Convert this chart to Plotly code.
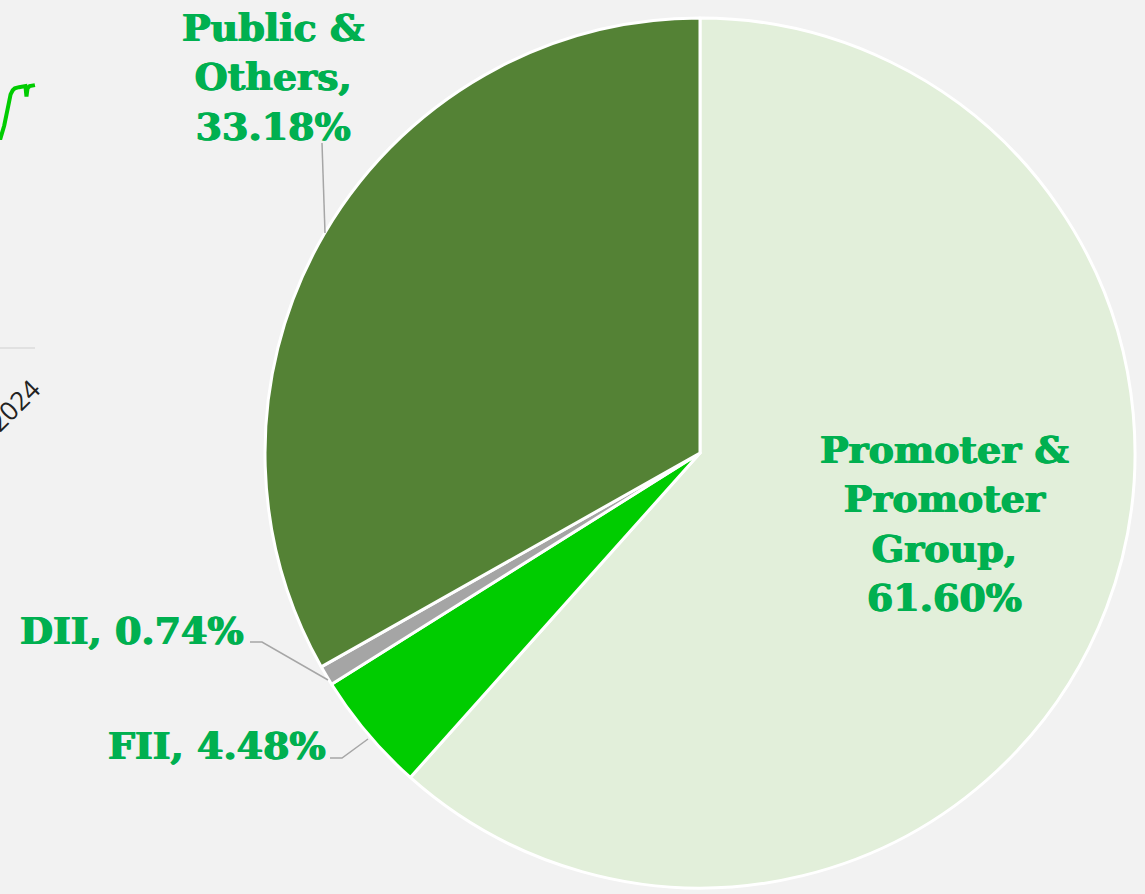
import plotly.graph_objects as go

W, H = 1145, 894

# shareholding pattern
labels = ["Promoter & Promoter Group", "FII", "DII", "Public & Others"]
values = [61.60, 4.48, 0.74, 33.18]
colors = ["#e2efda", "#00cc00", "#a5a5a5", "#548235"]

# label text as shown on the chart
label_text = [
    "Promoter &<br>Promoter<br>Group,<br>61.60%",
    "FII, 4.48%",
    "DII, 0.74%",
    "Public &<br>Others,<br>33.18%",
]

# scrap of a neighbouring chart visible at the left edge
side_x = [0, 4, 8, 10, 12, 14, 18, 22, 24, 25, 26, 28, 31, 33]
side_y = [0, 14, 34, 44, 48, 50, 51, 52, 52, 42, 50, 52, 53, 53]


def px(x):
    return x / W


def py(y):
    return 1 - y / H


fig = go.Figure()

fig.add_trace(go.Pie(
    labels=labels,
    values=values,
    sort=False,
    direction="clockwise",
    rotation=0,
    marker=dict(colors=colors, line=dict(color="white", width=3)),
    textinfo="none",
    hoverinfo="label+percent",
    domain=dict(x=[265 / W, 1135 / W], y=[6 / H, 876 / H]),
    showlegend=False,
))

fig.add_trace(go.Scatter(
    x=side_x, y=side_y, mode="lines",
    line=dict(color="#00cc00", width=4),
    xaxis="x", yaxis="y", showlegend=False, hoverinfo="skip",
))

green = "#00b050"
lbl_font = dict(family="DejaVu Serif", size=38, color=green,
                shadow=f"0.7px 0 0 {green}, -0.7px 0 0 {green}")

annotations = [
    dict(x=px(944), y=py(523), text="<b>" + label_text[0] + "</b>",
         xanchor="center", yanchor="middle", align="center"),
    dict(x=px(328), y=py(745), text="<b>" + label_text[1] + "</b>",
         xanchor="right", yanchor="middle", align="right"),
    dict(x=px(246), y=py(630), text="<b>" + label_text[2] + "</b>",
         xanchor="right", yanchor="middle", align="right"),
    dict(x=px(273), y=py(77), text="<b>" + label_text[3] + "</b>",
         xanchor="center", yanchor="middle", align="center"),
]
for a in annotations:
    a.update(xref="paper", yref="paper", showarrow=False, font=lbl_font)

annotations.append(dict(
    x=px(14), y=py(405), xref="paper", yref="paper", text="2024",
    xanchor="center", yanchor="middle",
    showarrow=False, textangle=-45, font=dict(family="Open Sans", size=26, color="#222222"),
))

leader = "#a6a6a6"
shapes = [
    dict(type="path", path=f"M {px(322)},{py(143)} L {px(325)},{py(233)}"),
    dict(type="path", path=f"M {px(250)},{py(642)} L {px(262)},{py(642)} L {px(328)},{py(680)}"),
    dict(type="path", path=f"M {px(330)},{py(758)} L {px(342)},{py(758)} L {px(368)},{py(739)}"),
    dict(type="line", x0=0, x1=px(35), y0=py(348), y1=py(348),
         line=dict(color="#d0d0d0", width=1)),
]
for s in shapes[:3]:
    s.update(xref="paper", yref="paper", line=dict(color=leader, width=1.5))
for s in shapes[3:]:
    s.update(xref="paper", yref="paper")

fig.update_layout(
    width=W, height=H,
    margin=dict(l=0, r=0, t=0, b=0),
    paper_bgcolor="#f2f2f2",
    plot_bgcolor="rgba(0,0,0,0)",
    xaxis=dict(domain=[0, 36 / W], range=[0, 34], visible=False, fixedrange=True),
    yaxis=dict(domain=[py(140), py(82)], range=[0, 56], visible=False, fixedrange=True),
    annotations=annotations,
    shapes=shapes,
)

fig.write_html(
    "out.html",
    config={"displayModeBar": False},
    post_script="document.body.style.margin='0';document.body.style.background='#f2f2f2';",
)
